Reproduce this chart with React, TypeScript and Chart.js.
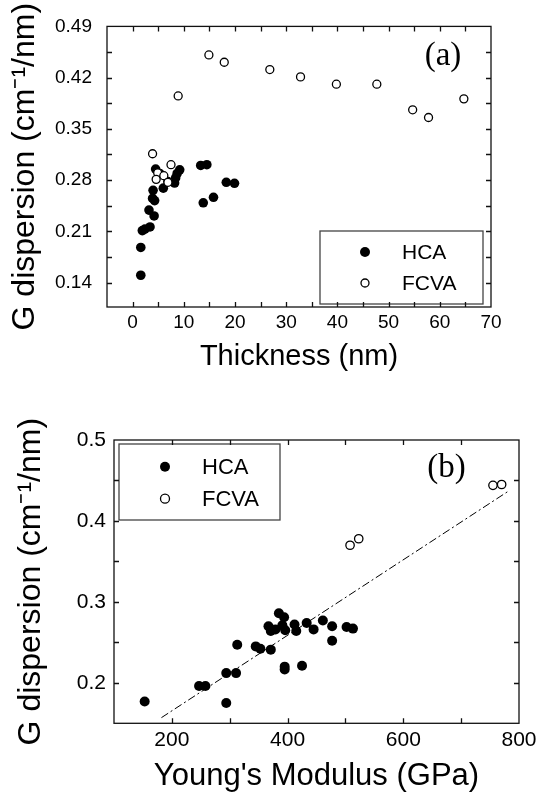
import React, { useEffect, useRef } from 'react';
import { Chart, registerables } from 'chart.js';
Chart.register(...registerables);

// ---------- Data: panel (a) ----------
const seriesNames = ['HCA', 'FCVA'];
const hcaThickX = [1.6, 1.6, 1.9, 2.4, 3.4, 3.2, 4.2, 3.9, 4.3, 4.0, 4.5, 5.3, 6.0, 6.9, 8.2, 8.4, 8.7, 9.2, 13.3, 14.5, 13.8, 15.8, 18.3, 19.9];
const hcaThickY = [0.150, 0.188, 0.211, 0.213, 0.216, 0.239, 0.231, 0.255, 0.252, 0.266, 0.295, 0.289, 0.269, 0.278, 0.276, 0.283, 0.289, 0.294, 0.300, 0.301, 0.249, 0.2565, 0.277, 0.2756];
const fcvaThickX = [3.9, 4.9, 4.6, 6.1, 6.9, 7.5, 8.9, 14.9, 17.9, 26.8, 32.8, 39.8, 47.7, 54.7, 57.8, 64.7];
const fcvaThickY = [0.316, 0.290, 0.281, 0.286, 0.277, 0.301, 0.395, 0.451, 0.441, 0.431, 0.421, 0.411, 0.411, 0.376, 0.3655, 0.391];
const thickTicks = [0, 10, 20, 30, 40, 50, 60, 70];
const thickMinor = [0, 5, 10, 15, 20, 25, 30, 35, 40, 45, 50, 55, 60, 65];
const dispTicksA = [0.14, 0.21, 0.28, 0.35, 0.42, 0.49];
const dispMinorA = [0.14, 0.175, 0.21, 0.245, 0.28, 0.315, 0.35, 0.385, 0.42, 0.455];

// ---------- Data: panel (b) ----------
const hcaModX = [153, 247, 258, 294, 294, 311, 313, 345, 353, 371, 367, 371, 379, 385, 394, 391, 396, 395, 395, 412, 415, 425, 433, 445, 461, 477, 477, 502, 513];
const hcaModY = [0.177, 0.196, 0.196, 0.175, 0.212, 0.212, 0.247, 0.245, 0.242, 0.241, 0.270, 0.264, 0.266, 0.286, 0.281, 0.271, 0.265, 0.220, 0.2165, 0.272, 0.264, 0.221, 0.274, 0.266, 0.277, 0.270, 0.252, 0.269, 0.267];
const fcvaModX = [508, 523, 755, 770];
const fcvaModY = [0.370, 0.378, 0.444, 0.445];
const fitModX = [182, 780];
const fitModY = [0.157, 0.436];
const modTicks = [200, 400, 600, 800];
const modMinor = [200, 300, 400, 500, 600, 700];
const dispTicksB = [0.2, 0.3, 0.4, 0.5];
const dispMinorB = [0.2, 0.25, 0.3, 0.35, 0.4, 0.45];

const SANS = '"Liberation Sans", Arial, sans-serif';
const SERIF = '"Liberation Serif", "Times New Roman", serif';

const pts = (xs: number[], ys: number[]) => xs.map((x, i) => ({ x, y: ys[i] }));

type DecorCfg = {
  xMinor: number[];
  yMinor: number[];
  legendBox: [number, number, number, number];
  markerX: number;
  textX: number;
  rowsY: number[];
  legendFont: number;
  legendRadii: number[];
  label: string;
  labelX: number;
  labelY: number;
  labelFont: number;
};

const makeDecor = (cfg: DecorCfg) => ({
  id: 'decor',
  afterDatasetsDraw(chart: any) {
    const ctx = chart.ctx;
    const [l, t, r, b] = cfg.legendBox;
    ctx.save();
    ctx.fillStyle = '#fff';
    ctx.fillRect(l, t, r - l, b - t);
    ctx.strokeStyle = '#444';
    ctx.lineWidth = 1.3;
    ctx.strokeRect(l, t, r - l, b - t);
    ctx.font = `${cfg.legendFont}px ${SANS}`;
    ctx.textBaseline = 'middle';
    ctx.textAlign = 'left';
    seriesNames.forEach((name, i) => {
      const ds = chart.data.datasets.find((d: any) => d.label === name);
      const y = cfg.rowsY[i];
      ctx.beginPath();
      ctx.arc(cfg.markerX, y, cfg.legendRadii[i], 0, Math.PI * 2);
      ctx.fillStyle = ds.pointBackgroundColor;
      ctx.fill();
      if (ds.pointBorderWidth > 0) {
        ctx.lineWidth = ds.pointBorderWidth;
        ctx.strokeStyle = ds.pointBorderColor;
        ctx.stroke();
      }
      ctx.fillStyle = '#000';
      ctx.fillText(name, cfg.textX, y + 1);
    });
    ctx.restore();
  },
  afterDraw(chart: any) {
    const ctx = chart.ctx;
    const { left, right, top, bottom } = chart.chartArea;
    const xs = chart.scales.x;
    const ys = chart.scales.y;
    const L = 5;
    ctx.save();
    ctx.strokeStyle = '#111';
    ctx.lineWidth = 1.3;
    ctx.beginPath();
    cfg.xMinor.forEach((v) => {
      const p = Math.round(xs.getPixelForValue(v)) + 0.5;
      ctx.moveTo(p, bottom);
      ctx.lineTo(p, bottom - L);
      ctx.moveTo(p, top);
      ctx.lineTo(p, top + L);
    });
    cfg.yMinor.forEach((v) => {
      const p = Math.round(ys.getPixelForValue(v)) + 0.5;
      ctx.moveTo(left, p);
      ctx.lineTo(left + L, p);
      ctx.moveTo(right, p);
      ctx.lineTo(right - L, p);
    });
    ctx.stroke();
    ctx.strokeRect(left, top, right - left, bottom - top);
    ctx.fillStyle = '#000';
    ctx.font = `${cfg.labelFont}px ${SERIF}`;
    ctx.textAlign = 'center';
    ctx.textBaseline = 'middle';
    ctx.fillText(cfg.label, cfg.labelX, cfg.labelY);
    ctx.restore();
  },
});

const axisCommon = (size: number, padding: number) => ({
  type: 'linear' as const,
  grid: { display: false, drawTicks: false },
  border: { display: false },
  ticks: { padding, color: '#000', font: { family: SANS, size }, maxRotation: 0, autoSkip: false },
});

function useChart(ref: React.RefObject<HTMLCanvasElement>, make: () => any) {
  useEffect(() => {
    if (!ref.current) return;
    const chart = new Chart(ref.current, make());
    return () => chart.destroy();
  }, []);
}

export default function App() {
  const refA = useRef<HTMLCanvasElement>(null);
  const refB = useRef<HTMLCanvasElement>(null);

  useChart(refA, () => ({
    type: 'scatter',
    data: {
      datasets: [
        {
          label: 'FCVA', data: pts(fcvaThickX, fcvaThickY), order: 0,
          pointRadius: 4, pointBorderWidth: 1.3, pointBackgroundColor: '#fff', pointBorderColor: '#000',
          backgroundColor: '#fff', borderColor: '#000',
        },
        {
          label: 'HCA', data: pts(hcaThickX, hcaThickY), order: 1,
          pointRadius: 4.8, pointBorderWidth: 0, pointBackgroundColor: '#000', pointBorderColor: '#000',
          backgroundColor: '#000', borderColor: '#000',
        },
      ],
    },
    options: {
      responsive: false, animation: false, events: [],
      layout: { padding: { left: 0, top: 26, right: 56, bottom: 0 } },
      plugins: { legend: { display: false }, tooltip: { enabled: false } },
      scales: {
        x: {
          ...axisCommon(19, 4), min: -5, max: 70,
          afterBuildTicks: (s: any) => { s.ticks = thickTicks.map((value) => ({ value })); },
          afterFit: (s: any) => { s.height = 83; },
          ticks: { ...axisCommon(19, 4).ticks, callback: (v: any) => String(v) },
          title: { display: true, text: 'Thickness (nm)', color: '#000', font: { family: SANS, size: 29 }, padding: { top: 0, bottom: 16 } },
        },
        y: {
          ...axisCommon(19, 15), min: 0.1066, max: 0.49,
          afterBuildTicks: (s: any) => { s.ticks = dispTicksA.map((value) => ({ value })); },
          afterFit: (s: any) => { s.width = 107; },
          ticks: { ...axisCommon(19, 15).ticks, callback: (v: any) => Number(v).toFixed(2) },
          title: { display: true, text: 'G dispersion (cm\u207B\u00B9/nm)', color: '#000', font: { family: SANS, size: 32 }, padding: { top: 6, bottom: 0 } },
        },
      },
    },
    plugins: [makeDecor({
      xMinor: thickMinor, yMinor: dispMinorA,
      legendBox: [320, 231, 483, 304], markerX: 365, textX: 402, rowsY: [252, 283],
      legendFont: 21, legendRadii: [5, 4],
      label: '(a)', labelX: 443, labelY: 56, labelFont: 33,
    })],
  }));

  useChart(refB, () => ({
    type: 'scatter',
    data: {
      datasets: [
        {
          label: 'FCVA', data: pts(fcvaModX, fcvaModY), order: 0,
          pointRadius: 4.2, pointBorderWidth: 1.3, pointBackgroundColor: '#fff', pointBorderColor: '#000',
          backgroundColor: '#fff', borderColor: '#000',
        },
        {
          label: 'HCA', data: pts(hcaModX, hcaModY), order: 1,
          pointRadius: 5, pointBorderWidth: 0, pointBackgroundColor: '#000', pointBorderColor: '#000',
          backgroundColor: '#000', borderColor: '#000',
        },
        {
          label: 'fit', data: pts(fitModX, fitModY), order: 2, showLine: true,
          pointRadius: 0, borderColor: '#000', borderWidth: 1, borderDash: [8, 3, 2, 3],
          backgroundColor: 'transparent', fill: false,
        },
      ],
    },
    options: {
      responsive: false, animation: false, events: [],
      layout: { padding: { left: 0, top: 50, right: 28, bottom: 0 } },
      plugins: { legend: { display: false }, tooltip: { enabled: false } },
      scales: {
        x: {
          ...axisCommon(21, 4), min: 100, max: 800,
          afterBuildTicks: (s: any) => { s.ticks = modTicks.map((value) => ({ value })); },
          afterFit: (s: any) => { s.height = 72.7; },
          ticks: { ...axisCommon(21, 4).ticks, callback: (v: any) => String(v) },
          title: { display: true, text: "Young's Modulus (GPa)", color: '#000', font: { family: SANS, size: 31 }, padding: { top: 0, bottom: 1 } },
        },
        y: {
          ...axisCommon(21, 8), min: 0.15, max: 0.5,
          afterBuildTicks: (s: any) => { s.ticks = dispTicksB.map((value) => ({ value })); },
          afterFit: (s: any) => { s.width = 114; },
          ticks: { ...axisCommon(21, 8).ticks, callback: (v: any) => Number(v).toFixed(1) },
          title: { display: true, text: 'G dispersion (cm\u207B\u00B9/nm)', color: '#000', font: { family: SANS, size: 32 }, padding: { top: 12, bottom: 0 } },
        },
      },
    },
    plugins: [makeDecor({
      xMinor: modMinor, yMinor: dispMinorB,
      legendBox: [119, 54, 280, 130], markerX: 165, textX: 202, rowsY: [76.7, 108.7],
      legendFont: 22, legendRadii: [5, 4.5],
      label: '(b)', labelX: 446.5, labelY: 78.5, labelFont: 33,
    })],
  }));

  return (
    <div style={{ position: 'absolute', left: 0, top: 0, width: 547, height: 796, background: '#fff' }}>
      <canvas ref={refA} width={547} height={390} style={{ display: 'block', position: 'absolute', left: 0, top: 0 }} />
      <canvas ref={refB} width={547} height={406} style={{ display: 'block', position: 'absolute', left: 0, top: 390 }} />
    </div>
  );
}
